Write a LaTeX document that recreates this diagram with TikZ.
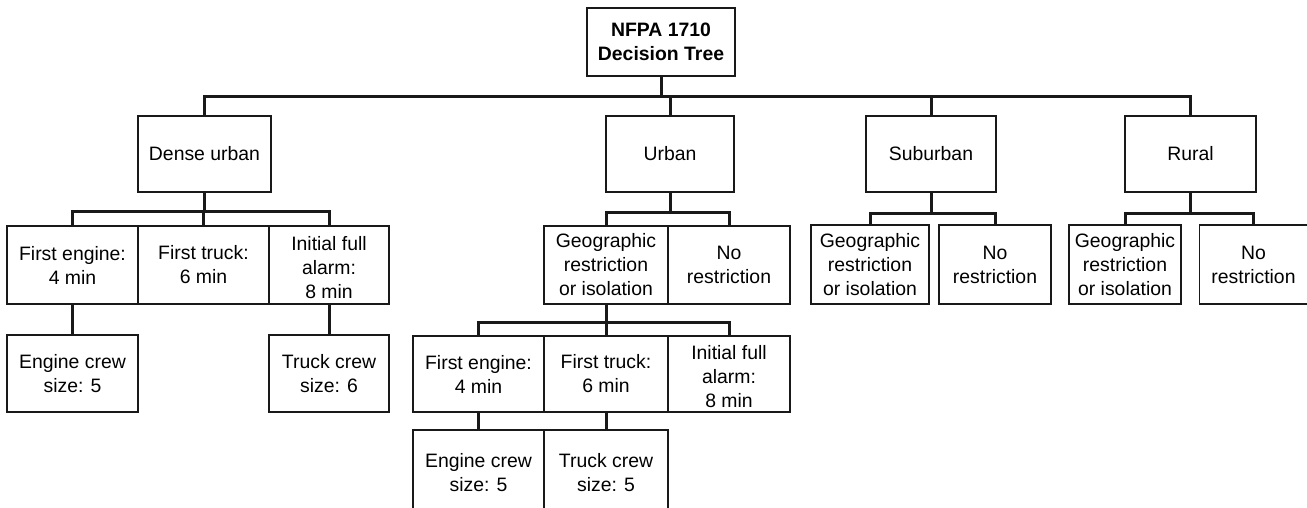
\documentclass[tikz,border=0pt]{standalone}
\usepackage{fontspec}
\setmainfont{Liberation Sans}
\tikzset{box/.style={draw=black!90,line width=1.4pt,align=center,inner sep=0pt,font=\fontsize{19.4}{24}\selectfont},
  link/.style={draw=black!90,line width=3pt}}
\begin{document}
\begin{tikzpicture}[x=1pt,y=-1pt]
\useasboundingbox (0,0) rectangle (1307,507);
\node[box,font=\bfseries\fontsize{19.4}{24}\selectfont,minimum width=148pt,minimum height=68pt] (root) at (661,42) {NFPA 1710\\Decision Tree};
\foreach \n/\x/\w/\t in {dense/204.5/133/Dense urban,urban/670/128/Urban,suburban/931/130/Suburban,rural/1190.5/131/Rural}
  \node[box,minimum width=\w pt,minimum height=76pt] (\n) at (\x,154) {\t};
\foreach \n/\x/\y/\w/\h/\t in {dfe/72.5/265/131/78/{First engine:\\4 min},dft/203.5/265/131/78/{First truck:\\6 min},dfa/329/265/120/78/{\rule{0pt}{20pt}Initial full\\alarm:\\8 min},
  dec/72.5/373.5/131/77/{Engine crew\\size: 5},dtc/329/373.5/120/77/{Truck crew\\size: 6},
  ugeo/606/265/124/78/{Geographic\\restriction\\or isolation},uno/729/265/122/78/{No\\restriction},
  ufe/478.5/374/131/76/{First engine:\\4 min},uft/606/374/124/76/{First truck:\\6 min},ufa/729/374/122/76/{\rule{0pt}{20pt}Initial full\\alarm:\\8 min},
  uec/478.5/471/131/82/{\rule{0pt}{18pt}Engine crew\\size: 5},utc/606/471/124/82/{\rule{0pt}{18pt}Truck crew\\size: 5},
  sgeo/870/264.5/118/79/{Geographic\\restriction\\or isolation},sno/995/264.5/112/79/{No\\restriction},
  rgeo/1125/264.5/112/79/{Geographic\\restriction\\or isolation},rno/1253.5/264.5/108/79/{No\\restriction}}
  \node[box,minimum width=\w pt,minimum height=\h pt] (\n) at (\x,\y) {\t};
\coordinate (bus0) at (0,96);\coordinate (busd) at (0,211);\coordinate (busu) at (0,212);\coordinate (buss) at (0,213);\coordinate (busg) at (0,322);
\foreach \c in {dense,urban,suburban,rural} \draw[link] (root.south) |- (\c.north |- bus0) -- (\c.north);
\foreach \c in {dfe,dft,dfa} \draw[link] (dense.south) |- (\c.north |- busd) -- (\c.north);
\foreach \c in {ugeo,uno} \draw[link] (urban.south) |- (\c.north |- busu) -- (\c.north);
\foreach \c in {ufe,uft,ufa} \draw[link] (ugeo.south) |- (\c.north |- busg) -- (\c.north);
\foreach \c in {sgeo,sno} \draw[link] (suburban.south) |- (\c.north |- buss) -- (\c.north);
\foreach \c in {rgeo,rno} \draw[link] (rural.south) |- (\c.north |- buss) -- (\c.north);
\draw[link] (dfe.south) -- (dec.north);\draw[link] (dfa.south) -- (dtc.north);
\draw[link] (ufe.south) -- (uec.north);\draw[link] (uft.south) -- (utc.north);
\end{tikzpicture}
\end{document}
